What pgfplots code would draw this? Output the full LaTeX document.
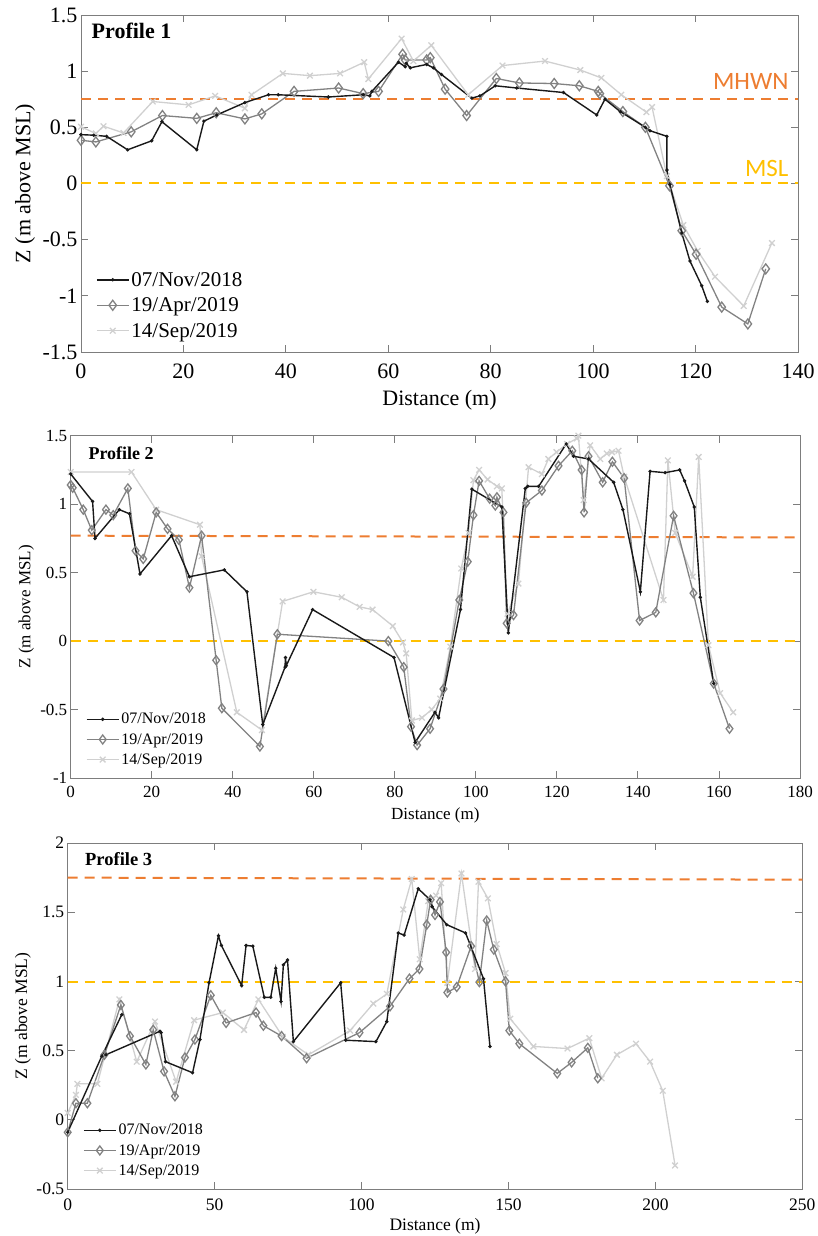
\documentclass[border=0pt]{standalone}
\usepackage{pgfplots}
\pgfplotsset{compat=1.18}
\usepackage{fontspec}
\setmainfont{Liberation Serif}
\newfontfamily\calibri{Carlito}
\definecolor{cnov}{RGB}{25,25,25}
\definecolor{capr}{RGB}{130,130,130}
\definecolor{csep}{RGB}{208,208,208}
\definecolor{corange}{RGB}{237,125,49}
\definecolor{cgold}{RGB}{255,192,0}
\definecolor{caxis}{RGB}{125,125,125}
\pgfplotsset{
  prof/.style={
    scale only axis,
    axis line style={caxis, line width=0.9pt},
    tick style={caxis, line width=0.9pt},
    tick align=inside, major tick length=7pt,
    /pgf/number format/assume math mode=true,
    legend cell align=left,
    reverse legend,
    legend style={draw=none, fill=none, anchor=north west, inner sep=0pt, outer sep=0pt},
    legend image code/.code={\draw[mark repeat=2,mark phase=2,##1] plot coordinates {(0pt,0pt) (16pt,0pt) (32pt,0pt)};},
  },
  nov/.style={color=cnov, line width=1.4pt, mark=*, mark size=0.9pt},
  apr/.style={color=capr, line width=1.3pt, mark=diamond, mark size=5pt},
  sep/.style={color=csep, line width=1.3pt, mark=x, mark size=4pt},
  ref/.style={line width=2pt, dash pattern=on 10pt off 7pt, forget plot, mark=none},
}
\begin{document}
\begin{tikzpicture}
\useasboundingbox (0pt,0pt) rectangle (817pt,-1236pt);
% ---------------- Profile 1 ----------------
\begin{axis}[prof, at={(81pt,-352pt)}, anchor=south west, width=717pt, height=337pt,
  xmin=0, xmax=140, ymin=-1.5, ymax=1.5,
  xtick={0,20,...,140}, ytick={-1.5,-1,-0.5,0,0.5,1,1.5},
  ticklabel style={font=\rmfamily\fontsize{22}{22}\selectfont},
  xticklabel style={yshift=-8pt},
  xlabel={Distance (m)}, ylabel={Z (m above MSL)},
  label style={font=\fontsize{22}{22}\selectfont},
  xlabel style={at={(axis description cs:0.5,-0.142)}, anchor=center},
  ylabel style={at={(axis description cs:-0.078,0.5)}, anchor=center},
  legend style={at={(axis description cs:0.021,0.243)}, font=\fontsize{21}{25}\selectfont, row sep=6pt},
]
\addplot[corange, ref] coordinates {(0,0.75) (140,0.75)};
\addplot[cgold, ref] coordinates {(0,0.004) (140,0.004)};
\addplot[sep] coordinates {(0,0.505) (2.9,0.445) (4.4,0.51) (8.3,0.45) (14.0,0.73) (21.0,0.70) (26.2,0.78) (32.0,0.67) (33.3,0.79) (39.4,0.98) (44.7,0.96) (50.6,0.98) (55.3,1.08) (56.1,0.93) (62.6,1.29) (64.9,1.09) (68.4,1.23) (75.6,0.79) (82.3,1.05) (90.6,1.09) (97.5,1.01) (101.6,0.94) (105.5,0.79) (110.4,0.635) (111.5,0.68) (114.4,0.065) (117.6,-0.37) (120.4,-0.60) (123.8,-0.83) (129.4,-1.09) (134.9,-0.53)};
\addlegendentry{14/Sep/2019}
\addplot[apr] coordinates {(0,0.385) (2.9,0.37) (9.8,0.46) (15.9,0.605) (22.6,0.58) (26.4,0.63) (32.0,0.575) (35.3,0.62) (41.6,0.82) (50.3,0.85) (55.1,0.80) (58.1,0.82) (62.8,1.15) (63.3,1.10) (67.5,1.10) (68.2,1.12) (71.1,0.84) (75.3,0.605) (81.1,0.935) (85.6,0.895) (92.4,0.89) (97.3,0.87) (101.0,0.82) (101.3,0.80) (105.8,0.64) (110.2,0.50) (114.9,-0.02) (117.3,-0.42) (120.1,-0.63) (125.1,-1.10) (130.2,-1.25) (133.7,-0.76)};
\addlegendentry{19/Apr/2019}
\addplot[nov] coordinates {(0,0.435) (2.5,0.43) (5,0.42) (9.1,0.30) (13.8,0.38) (15.8,0.55) (22.6,0.30) (24.0,0.555) (26.5,0.61) (32.0,0.72) (36.6,0.79) (38.5,0.79) (48.3,0.77) (55.1,0.79) (56.4,0.78) (56.8,0.82) (62.0,1.08) (63.3,1.04) (63.5,1.07) (64.3,1.03) (67.5,1.06) (68.8,1.03) (70.4,0.97) (76.3,0.76) (77.9,0.78) (80.9,0.87) (85.1,0.85) (94.2,0.81) (100.7,0.61) (102.3,0.75) (105.3,0.64) (110.2,0.50) (111.1,0.47) (114.4,0.42) (114.4,0.12) (115.0,-0.01) (117.3,-0.44) (118.9,-0.69) (121.2,-0.91) (122.3,-1.05)};
\addlegendentry{07/Nov/2018}
\node[anchor=west, font=\bfseries\fontsize{22}{22}\selectfont] at (rel axis cs:0.01,0.953) {Profile 1};
\node[anchor=east, text=corange, font=\calibri\fontsize{25}{25}\selectfont] at (rel axis cs:0.9916,0.802) {MHWN};
\node[anchor=east, text=cgold, font=\calibri\fontsize{25}{25}\selectfont] at (rel axis cs:0.9916,0.546) {MSL};
\end{axis}
% ---------------- Profile 2 ----------------
\begin{axis}[prof, at={(70.7pt,-778pt)}, anchor=south west, width=729.3pt, height=342.3pt,
  xmin=0, xmax=180, ymin=-1, ymax=1.5,
  xtick={0,20,...,180}, ytick={-1,-0.5,0,0.5,1,1.5},
  ticklabel style={font=\rmfamily\fontsize{17}{17}\selectfont},
  xticklabel style={yshift=-5pt},
  xlabel={Distance (m)}, ylabel={Z (m above MSL)},
  label style={font=\fontsize{17}{17}\selectfont},
  xlabel style={at={(axis description cs:0.5,-0.108)}, anchor=center},
  ylabel style={at={(axis description cs:-0.061,0.5)}, anchor=center},
  legend style={at={(axis description cs:0.021,0.195)}, font=\fontsize{16}{20}\selectfont, row sep=4pt},
  apr/.append style={mark size=4.5pt},
]
\addplot[corange, ref] coordinates {(0,0.77) (180,0.757)};
\addplot[cgold, ref] coordinates {(0,0.003) (180,0.003)};
\addplot[sep] coordinates {(0,1.235) (15.0,1.235) (21.1,0.96) (31.9,0.85) (32.3,0.62) (41.0,-0.52) (47.2,-0.65) (52.3,0.29) (59.9,0.36) (66.9,0.32) (71.3,0.25) (74.5,0.23) (79.5,0.11) (82.0,-0.01) (82.8,-0.09) (84.2,-0.58) (86.7,-0.56) (89.1,-0.50) (91.2,-0.42) (93.7,-0.04) (96.4,0.53) (98.2,0.79) (99.4,1.175) (100.8,1.25) (102.9,1.18) (105.2,1.13) (106.4,1.115) (107.8,0.20) (110.5,0.42) (113.0,1.27) (116.3,1.22) (117.9,1.33) (119.9,1.38) (122.5,1.44) (124.9,1.48) (125.3,1.50) (126.6,1.03) (128.2,1.43) (130.7,1.33) (132.3,1.37) (133.6,1.38) (135.2,1.39) (136.6,1.20) (146.3,0.30) (147.4,1.32) (149.2,0.79) (153.5,0.47) (155.0,1.345) (157.4,-0.03) (160.3,-0.38) (163.5,-0.52)};
\addlegendentry{14/Sep/2019}
\addplot[apr] coordinates {(0,1.14) (0.5,1.12) (3.1,0.96) (5.2,0.81) (8.7,0.96) (10.5,0.92) (14.1,1.115) (16.0,0.66) (17.9,0.60) (21.1,0.94) (23.9,0.82) (26.7,0.74) (29.3,0.39) (32.3,0.77) (35.9,-0.14) (37.3,-0.49) (46.7,-0.77) (51.0,0.05) (78.4,0.00) (82.2,-0.19) (84.0,-0.625) (85.5,-0.76) (88.7,-0.64) (92.0,-0.35) (95.9,0.30) (98.0,0.58) (99.4,0.92) (100.8,1.17) (103.4,1.04) (104.8,0.99) (105.2,1.05) (106.8,0.94) (107.6,0.13) (109.3,0.19) (112.4,1.01) (116.3,1.10) (120.4,1.28) (123.8,1.39) (126.1,1.25) (126.7,0.94) (127.8,1.35) (131.3,1.16) (133.7,1.31) (136.6,1.19) (140.4,0.15) (144.4,0.21) (148.8,0.915) (153.7,0.35) (158.7,-0.31) (162.6,-0.64)};
\addlegendentry{19/Apr/2019}
\addplot[nov] coordinates {(0,1.22) (5.4,1.02) (6.0,0.75) (12.0,0.96) (14.5,0.93) (17.1,0.49) (24.9,0.77) (29.3,0.47) (37.9,0.52) (43.5,0.36) (47.4,-0.61) (52.9,-0.19) (53.0,-0.12) (53.2,-0.18) (59.7,0.23) (79.8,-0.12) (85.0,-0.74) (89.9,-0.52) (90.8,-0.56) (96.2,0.23) (99.0,1.11) (106.4,0.98) (108.0,0.06) (112.2,1.115) (112.8,1.13) (115.5,1.13) (122.3,1.44) (124.1,1.35) (127.8,1.33) (134.0,1.16) (136.3,0.96) (140.6,0.36) (143.0,1.24) (146.7,1.23) (150.3,1.25) (151.5,1.17) (153.9,0.98) (155.4,0.32) (158.7,-0.31)};
\addlegendentry{07/Nov/2018}
\node[anchor=west, font=\bfseries\fontsize{18}{18}\selectfont] at (rel axis cs:0.0196,0.95) {Profile 2};
\end{axis}
% ---------------- Profile 3 ----------------
\begin{axis}[prof, at={(67.7pt,-1189pt)}, anchor=south west, width=734.6pt, height=346pt,
  xmin=0, xmax=250, ymin=-0.5, ymax=2,
  xtick={0,50,...,250}, ytick={-0.5,0,0.5,1,1.5,2},
  ticklabel style={font=\rmfamily\fontsize{17.5}{17.5}\selectfont},
  xticklabel style={yshift=-6pt},
  xlabel={Distance (m)}, ylabel={Z (m above MSL)},
  label style={font=\fontsize{17.5}{17.5}\selectfont},
  xlabel style={at={(axis description cs:0.5,-0.107)}, anchor=center},
  ylabel style={at={(axis description cs:-0.061,0.5)}, anchor=center},
  legend style={at={(axis description cs:0.021,0.193)}, font=\fontsize{16}{20}\selectfont, row sep=4pt},
  apr/.append style={mark size=4.5pt},
]
\addplot[corange, ref] coordinates {(0,1.75) (250,1.735)};
\addplot[cgold, ref] coordinates {(0,0.995) (250,0.995)};
\addplot[sep] coordinates {(0,0.05) (2.8,0.18) (3.3,0.26) (10.1,0.26) (17.6,0.87) (23.5,0.42) (29.7,0.71) (36.9,0.275) (43.0,0.72) (52.8,0.775) (60.0,0.65) (64.9,0.87) (73.2,0.60) (81.9,0.47) (96.1,0.645) (104.0,0.84) (108.6,0.91) (114.2,1.52) (117.1,1.74) (119.8,1.16) (122.7,1.58) (125.4,1.62) (127.1,1.71) (129.2,0.99) (134.0,1.78) (138.6,1.09) (139.8,1.72) (143.0,1.60) (146.0,1.27) (149.0,1.06) (150.6,0.73) (158.5,0.53) (170.1,0.515) (177.5,0.59) (181.7,0.30) (186.9,0.47) (193.4,0.55) (198.2,0.42) (202.5,0.21) (206.7,-0.33)};
\addlegendentry{14/Sep/2019}
\addplot[apr] coordinates {(0,-0.09) (2.8,0.12) (6.7,0.12) (12.5,0.47) (18.1,0.83) (21.2,0.605) (26.6,0.40) (29.1,0.65) (32.8,0.35) (36.5,0.17) (39.9,0.45) (43.3,0.58) (48.7,0.90) (53.9,0.70) (64.1,0.775) (66.6,0.68) (72.8,0.605) (81.3,0.445) (99.3,0.63) (109.7,0.82) (116.3,1.02) (119.7,1.09) (122.2,1.41) (123.5,1.59) (125.0,1.48) (126.7,1.575) (128.8,1.21) (129.2,0.92) (132.4,0.96) (137.3,1.255) (140.1,0.995) (142.6,1.44) (145.0,1.23) (149.0,1.00) (150.3,0.645) (153.7,0.55) (166.6,0.335) (171.5,0.415) (177.0,0.52) (180.4,0.30)};
\addlegendentry{19/Apr/2019}
\addplot[nov, forget plot] coordinates {(0,-0.09) (11.6,0.46) (18.4,0.76)};
\addplot[nov] coordinates {(13.0,0.47) (31.4,0.64) (31.8,0.63) (33.3,0.42) (42.5,0.34) (45.0,0.58) (48.1,0.99) (51.3,1.33) (52.3,1.26) (59.2,0.97) (60.7,1.26) (63.0,1.255) (66.9,0.885) (69.1,0.885) (70.8,1.095) (72.6,0.855) (73.4,1.12) (74.8,1.155) (76.8,0.565) (92.9,0.99) (94.6,0.575) (104.9,0.565) (108.6,0.71) (112.5,1.35) (114.5,1.335) (119.3,1.67) (123.3,1.59) (124.0,1.54) (129.0,1.41) (135.4,1.35) (141.5,1.02) (143.7,0.53)};
\addlegendentry{07/Nov/2018}
\node[anchor=west, font=\bfseries\fontsize{18.5}{18.5}\selectfont] at (rel axis cs:0.019,0.953) {Profile 3};
\end{axis}
\end{tikzpicture}
\end{document}
